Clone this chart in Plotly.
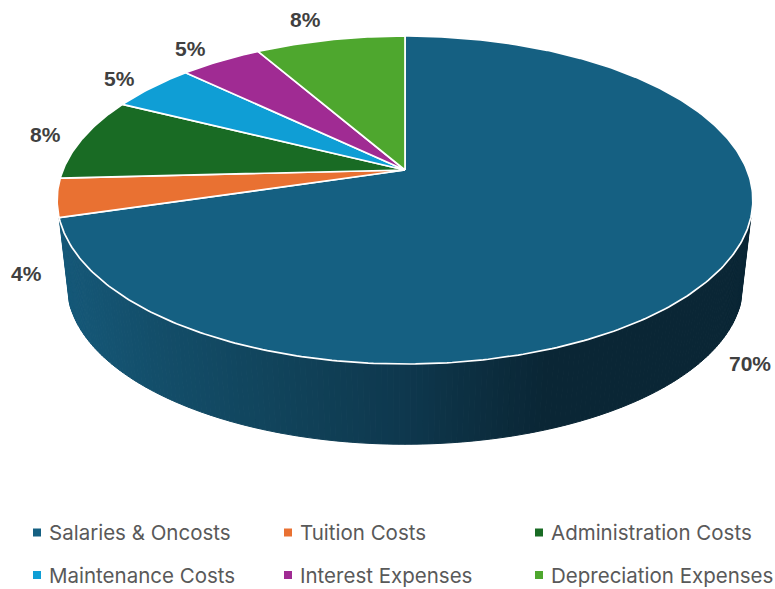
import numpy as np
import plotly.graph_objects as go

categories = ["Salaries & Oncosts", "Tuition Costs", "Administration Costs",
              "Maintenance Costs", "Interest Expenses", "Depreciation Expenses"]
values = [70.4, 3.8, 8.2, 4.75, 4.55, 8.3]
colors = ["#156082", "#E97132", "#196B24", "#0F9ED5", "#A02B93", "#4EA72E"]
label_x = [750, 26, 45, 119, 190, 305]
label_y = [363, 273, 134, 78, 48, 19]
legend_x = [37, 288, 539, 37, 288, 539]
legend_y = [532.5, 532.5, 532.5, 575, 575, 575]

# projection of the tilted disc
CX, AY, R, P, Q = 405.0, 170.0, 342.0, 0.183, -127.4
SCALE, CY_TOP, CY_BOT = 0.971, 200.0, 285.0


def top_rim(theta):
    u, v = np.sin(theta), np.cos(theta)
    d = 1 + P * v
    return CX + R * u / d, (Q * v + AY) / d


def bottom_rim(theta):
    x, y = top_rim(theta)
    return CX + SCALE * (x - CX), CY_BOT + SCALE * (y - CY_TOP)


fractions = np.array(values) / sum(values)
ends = np.cumsum(fractions) * 2 * np.pi
starts = ends - fractions * 2 * np.pi

wall_stops_x = [60, 150, 300, 400, 545, 760]
wall_stops_rgb = np.array([[21, 88, 120], [19, 78, 106], [16, 65, 88],
                           [14, 56, 78], [10, 38, 53], [10, 38, 53]])


def wall_color(x):
    rgb = [np.interp(x, wall_stops_x, wall_stops_rgb[:, i]) for i in range(3)]
    return "rgb({:.0f},{:.0f},{:.0f})".format(*rgb)


fig = go.Figure()

# side wall of the first slice, as narrow gradient strips
edges = np.linspace(2 * np.pi - ends[0], ends[0], 181)
for t0, t1 in zip(edges[:-1], edges[1:]):
    ts = np.linspace(t0, t1, 3)
    tx, ty = top_rim(ts)
    bx, by = bottom_rim(ts[::-1])
    col = wall_color(tx.mean())
    fig.add_trace(go.Scatter(x=np.r_[tx, bx, tx[0]], y=np.r_[ty, by, ty[0]],
                             mode="lines", fill="toself", fillcolor=col,
                             line=dict(color=col, width=1),
                             hoverinfo="skip", showlegend=False))

# top face
for name, s, e, col in zip(categories, starts, ends, colors):
    ts = np.linspace(s, e, max(int((e - s) * 80), 8))
    rx, ry = top_rim(ts)
    fig.add_trace(go.Scatter(x=np.r_[CX, rx, CX], y=np.r_[AY, ry, AY],
                             mode="lines", fill="toself", fillcolor=col,
                             line=dict(color="white", width=1.7),
                             name=name, showlegend=False, hoverinfo="name"))

# legend keys
for name, col, lx, ly in zip(categories, colors, legend_x, legend_y):
    fig.add_trace(go.Scatter(x=[lx], y=[ly], mode="markers", showlegend=False,
                             marker=dict(symbol="square", size=8, color=col),
                             hoverinfo="skip"))

ann = []
for v, lx, ly in zip(values, label_x, label_y):
    ann.append(dict(x=lx, y=ly, text=f"{round(v)}%", showarrow=False,
                    font=dict(family="Liberation Sans", size=21, color="#404040", weight="bold")))
for name, lx, ly in zip(categories, legend_x, legend_y):
    ann.append(dict(x=lx + 9.5, y=ly, text=name, showarrow=False, xanchor="left",
                    font=dict(family="Inter", size=20.5, color="#595959")))

fig.update_layout(
    width=775, height=589, margin=dict(l=0, r=0, t=0, b=0),
    paper_bgcolor="white", plot_bgcolor="white", showlegend=False,
    xaxis=dict(range=[0, 775], visible=False, fixedrange=True),
    yaxis=dict(range=[589, 0], visible=False, fixedrange=True),
    annotations=ann,
)
fig.write_html("out.html", config={"displayModeBar": False},
               post_script="document.body.style.margin='0';document.body.style.overflow='hidden';")
